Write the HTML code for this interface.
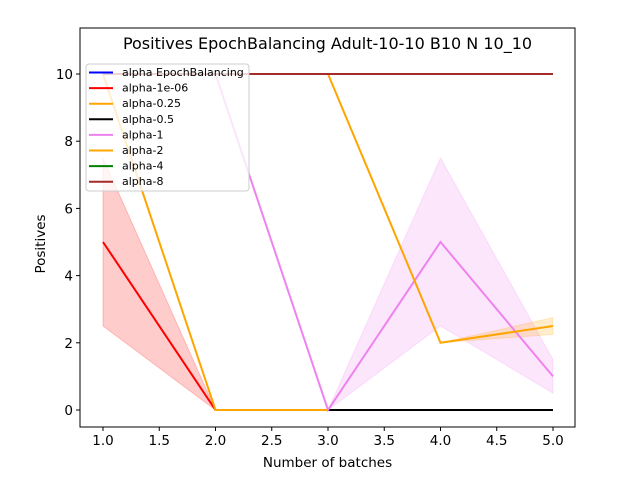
<!DOCTYPE html>
<html><head><meta charset="utf-8"><style>
body{margin:0;background:#fff;font-family:"Liberation Sans","DejaVu Sans",sans-serif}
svg text{font-family:"DejaVu Sans","Liberation Sans",sans-serif}
</style></head><body>
<svg id="c" width="640" height="480">
<rect x="0" y="0" width="640" height="480" fill="#fff"/>
<g id="bands"></g><g id="lines"></g><g id="axes"></g><g id="legend"></g>
</svg>
<script>
const xs=[1,2,3,4,5];
const xTicks=[1,1.5,2,2.5,3,3.5,4,4.5,5];
const yTicks=[0,2,4,6,8,10];
const names=["alpha EpochBalancing","alpha-1e-06","alpha-0.25","alpha-0.5","alpha-1","alpha-2","alpha-4","alpha-8"];
const colors=["blue","red","orange","black","violet","orange","green","brown"];
const sBlue=[null,null,null,null,null];
const sRed=[5,0,0,0,0];
const sOrange1=[10,0,0,0,0];
const sBlack=[null,null,0,0,0];
const sViolet=[10,10,0,5,1];
const sOrange2=[10,10,10,2,2.5];
const sGreen=[10,10,10,10,10];
const sBrown=[10,10,10,10,10];
const redLo=[2.5,0,0,0,0], redHi=[7.5,0,0,0,0];
const vioLo=[10,10,0,2.5,0.5], vioHi=[10,10,0,7.5,1.5];
const orLo=[10,10,10,2,2.25], orHi=[10,10,10,2,2.75];
const L=80,R=575,T=28,B=427;
const X=v=>103+(v-1)*112.5, Y=v=>410-v*33.6;
const NS="http://www.w3.org/2000/svg";
function mk(t,a,p){const e=document.createElementNS(NS,t);for(const k in a)e.setAttribute(k,a[k]);p.appendChild(e);return e;}
const bands=document.getElementById('bands'),lines=document.getElementById('lines'),axes=document.getElementById('axes'),leg=document.getElementById('legend');
function band(lo,hi,col,op,name){let pts=xs.map((x,i)=>X(x)+','+Y(hi[i])).concat(xs.map((x,i)=>X(x)+','+Y(lo[i])).reverse());
const e=mk('polygon',{points:pts.join(' '),fill:col,'fill-opacity':op,stroke:col,'stroke-opacity':op},bands);

}
band(redLo,redHi,'red',0.2,'band-alpha-1e-06');
band(vioLo,vioHi,'violet',0.2,'band-alpha-1');
band(orLo,orHi,'orange',0.2,'band-alpha-2');
const series=[sBlue,sRed,sOrange1,sBlack,sViolet,sOrange2,sGreen,sBrown];
series.forEach((s,k)=>{let pts=[];s.forEach((v,i)=>{if(v!==null)pts.push(X(xs[i])+','+Y(v));});
if(pts.length<2)return;
const e=mk('polyline',{points:pts.join(' '),fill:'none',stroke:colors[k],'stroke-width':2},lines);

});
mk('rect',{x:L,y:T,width:R-L,height:B-T,fill:'none',stroke:'#000','stroke-width':1},axes);
xTicks.forEach(t=>{mk('line',{x1:X(t),x2:X(t),y1:B,y2:B+4,stroke:'#000'},axes);
const e=mk('text',{x:X(t),y:B+18,'text-anchor':'middle','font-size':13.5},axes);e.textContent=t.toFixed(1);

});
yTicks.forEach(t=>{mk('line',{x1:L-4,x2:L,y1:Y(t),y2:Y(t),stroke:'#000'},axes);
const e=mk('text',{x:L-7,y:Y(t)+5,'text-anchor':'end','font-size':13.5},axes);e.textContent=t;

});
let e=mk('text',{x:327.5,y:467,'text-anchor':'middle','font-size':13.5},axes);e.textContent='Number of batches';


e=mk('text',{x:45,y:244,'text-anchor':'middle','font-size':13.5,transform:'rotate(-90 45 244)'},axes);e.textContent='Positives';


e=mk('text',{x:327.5,y:49,'text-anchor':'middle','font-size':16},axes);e.textContent='Positives EpochBalancing Adult-10-10 B10 N 10_10';


mk('rect',{x:86,y:64,width:163,height:127,rx:3,fill:'#fff','fill-opacity':0.8,stroke:'#ccc'},leg);
names.forEach((n,k)=>{const y=72+k*15.6;
mk('line',{x1:89,x2:113,y1:y+0.5,y2:y+0.5,stroke:colors[k],'stroke-width':2},leg);
const t=mk('text',{x:122,y:y+4,'font-size':11},leg);t.textContent=n;

});
</script>
</body></html>
